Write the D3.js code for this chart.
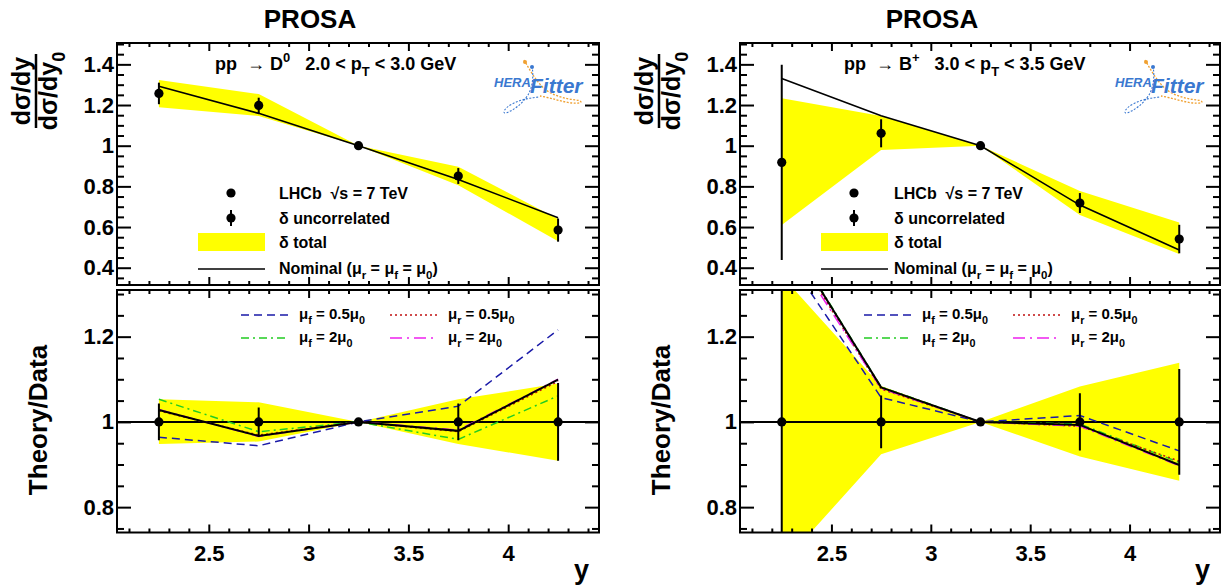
<!DOCTYPE html>
<html><head><meta charset="utf-8">
<script src="https://cdn.jsdelivr.net/npm/d3@7"></script>
<style>
body{margin:0;background:#fff;}
svg{display:block;}
text{font-family:"Liberation Sans",Arial,Helvetica,sans-serif;font-weight:bold;fill:#000;white-space:pre;}
</style></head><body>
<svg id="c" width="1225" height="585"></svg>
<script>
// ---------- data ----------
const rapidity = [2.25, 2.75, 3.25, 3.75, 4.25];
const xMajorTicks = [2.5, 3, 3.5, 4];
const topYTicks = [0.4, 0.6, 0.8, 1, 1.2, 1.4];
const ratioYTicks = [0.8, 1, 1.2];
const xDomain = [2.04, 4.455];
const topDomain = [0.315, 1.505];
const ratioDomain = [0.7405, 1.3095];

// D0, 2.0 < pT < 3.0 GeV
const d0Data      = [1.257, 1.198, 1.000, 0.851, 0.585];
const d0ErrUnc    = [0.053, 0.038, 0.000, 0.039, 0.057];
const d0BandLo    = [1.189, 1.146, 1.000, 0.806, 0.530];
const d0BandHi    = [1.323, 1.254, 1.000, 0.897, 0.640];
const d0Nominal   = [1.292, 1.159, 1.000, 0.834, 0.646];
const d0RatioErr  = [0.043, 0.034, 0.000, 0.043, 0.091];
const d0RatioLo   = [0.948, 0.954, 1.000, 0.948, 0.909];
const d0RatioHi   = [1.053, 1.046, 1.000, 1.053, 1.090];
const d0RNominal  = [1.028, 0.967, 1.000, 0.979, 1.099];
const d0RMuf05    = [0.964, 0.944, 1.000, 1.037, 1.216];
const d0RMuf2     = [1.053, 0.977, 1.000, 0.959, 1.061];
const d0RMur05    = [1.026, 0.969, 1.000, 0.977, 1.095];
const d0RMur2     = [1.029, 0.966, 1.000, 0.981, 1.100];

// B+, 3.0 < pT < 3.5 GeV
const bData       = [0.918, 1.061, 1.000, 0.718, 0.541];
const bErrUnc     = [0.480, 0.069, 0.000, 0.049, 0.070];
const bBandLo     = [0.610, 0.979, 1.000, 0.659, 0.467];
const bBandHi     = [1.233, 1.146, 1.000, 0.777, 0.622];
const bNominal    = [1.331, 1.147, 1.000, 0.708, 0.487];
const bRatioErr   = [0.520, 0.062, 0.000, 0.067, 0.124];
const bRatioLo    = [0.665, 0.924, 1.000, 0.919, 0.862];
const bRatioHi    = [1.343, 1.084, 1.000, 1.083, 1.139];
const bRNominal   = [1.457, 1.081, 1.000, 0.993, 0.899];
const bRMuf05     = [1.405, 1.057, 1.000, 1.015, 0.932];
const bRMuf2      = [1.460, 1.082, 1.000, 0.995, 0.905];
const bRMur05     = [1.450, 1.077, 1.000, 0.990, 0.908];
const bRMur2      = [1.440, 1.078, 1.000, 0.990, 0.897];

// ---------- drawing ----------
const svg = d3.select("#c");
const defs = svg.append("defs");
const TOP = [43, 285], BOT = [290, 532.5];

const varStyles = [
  {key:"muf05", color:"#1a1aa8", dash:"8,5",        w:1.5},
  {key:"muf2",  color:"#22cc22", dash:"8,4,2,4",    w:1.5},
  {key:"mur05", color:"#c01010", dash:"2,3",        w:1.5},
  {key:"mur2",  color:"#ee22ee", dash:"12,5,2,5",   w:1.5}
];

function rich(t, parts, fs){
  let shift = 0;
  parts.forEach(p=>{
    const [str, kind] = p;
    const ts = t.append("tspan").text(str);
    let target = 0, size = fs;
    if(kind==="sub"){ target = fs*0.32; size = fs*0.72; }
    if(kind==="sup"){ target = -fs*0.42; size = fs*0.72; }
    ts.attr("font-size", size).attr("dy", target - shift);
    shift = target;
  });
}

function drawPanel(cfg){
  const {id, x0, x1} = cfg;
  const x = d3.scaleLinear().domain(xDomain).range([x0, x1]);
  const yT = d3.scaleLinear().domain(topDomain).range([TOP[1], TOP[0]]);
  const yB = d3.scaleLinear().domain(ratioDomain).range([BOT[1], BOT[0]]);
  const idx = d3.range(rapidity.length);

  defs.append("clipPath").attr("id", id+"T").append("rect")
    .attr("x", x0).attr("y", TOP[0]).attr("width", x1-x0).attr("height", TOP[1]-TOP[0]);
  defs.append("clipPath").attr("id", id+"B").append("rect")
    .attr("x", x0).attr("y", BOT[0]).attr("width", x1-x0).attr("height", BOT[1]-BOT[0]);

  // title
  svg.append("text").attr("x", cfg.titleX).attr("y", 28).attr("text-anchor","middle")
    .attr("font-size", 26).text("PROSA");

  // ---- top panel ----
  const gT = svg.append("g").attr("clip-path", `url(#${id}T)`);
  gT.append("path").datum(idx)
    .attr("d", d3.area().x(i=>x(rapidity[i])).y0(i=>yT(cfg.bandLo[i])).y1(i=>yT(cfg.bandHi[i])))
    .attr("fill", "#ffff00");
  gT.append("path").datum(idx)
    .attr("d", d3.line().x(i=>x(rapidity[i])).y(i=>yT(cfg.nominal[i])))
    .attr("fill","none").attr("stroke","#000").attr("stroke-width",1.6);
  gT.selectAll(".eb").data(idx.filter(i=>cfg.errUnc[i]>0)).join("line")
    .attr("x1", i=>x(rapidity[i])).attr("x2", i=>x(rapidity[i]))
    .attr("y1", i=>yT(cfg.data[i]-cfg.errUnc[i])).attr("y2", i=>yT(cfg.data[i]+cfg.errUnc[i]))
    .attr("stroke","#000").attr("stroke-width",2);
  gT.selectAll(".pt").data(idx).join("circle")
    .attr("cx", i=>x(rapidity[i])).attr("cy", i=>yT(cfg.data[i])).attr("r",4.6).attr("fill","#000");

  // ---- bottom panel ----
  const gB = svg.append("g").attr("clip-path", `url(#${id}B)`);
  gB.append("path").datum(idx)
    .attr("d", d3.area().x(i=>x(rapidity[i])).y0(i=>yB(cfg.rLo[i])).y1(i=>yB(cfg.rHi[i])))
    .attr("fill", "#ffff00");
  gB.append("line").attr("x1", x0).attr("x2", x1).attr("y1", yB(1)).attr("y2", yB(1))
    .attr("stroke","#000").attr("stroke-width",2);
  varStyles.forEach(s=>{
    gB.append("path").datum(idx)
      .attr("d", d3.line().x(i=>x(rapidity[i])).y(i=>yB(cfg.vars[s.key][i])))
      .attr("fill","none").attr("stroke",s.color).attr("stroke-width",s.w).attr("stroke-dasharray",s.dash);
  });
  gB.append("path").datum(idx)
    .attr("d", d3.line().x(i=>x(rapidity[i])).y(i=>yB(cfg.rNominal[i])))
    .attr("fill","none").attr("stroke","#000").attr("stroke-width",2);
  gB.selectAll(".eb").data(idx.filter(i=>cfg.rErr[i]>0)).join("line")
    .attr("x1", i=>x(rapidity[i])).attr("x2", i=>x(rapidity[i]))
    .attr("y1", i=>yB(1-cfg.rErr[i])).attr("y2", i=>yB(1+cfg.rErr[i]))
    .attr("stroke","#000").attr("stroke-width",2);
  gB.selectAll(".pt").data(idx).join("circle")
    .attr("cx", i=>x(rapidity[i])).attr("cy", yB(1)).attr("r",4.6).attr("fill","#000");

  // ---- axes ----
  const xMinor = d3.range(21, 45).map(v=>v/10).filter(v=>v>xDomain[0] && v<xDomain[1] && !xMajorTicks.includes(v));
  const yMinorTop = d3.range(7, 31).map(v=>v/20).filter(v=>v>topDomain[0] && v<topDomain[1] && !topYTicks.some(t=>Math.abs(t-v)<1e-6));
  const yMinorR = d3.range(15, 27).map(v=>v/20).filter(v=>v>ratioDomain[0] && v<ratioDomain[1] && !ratioYTicks.some(t=>Math.abs(t-v)<1e-6));

  function styleAxis(sel){
    sel.select(".domain").remove();
    sel.selectAll(".tick line").attr("stroke","#000").attr("stroke-width",2);
    sel.selectAll("text").attr("font-family",null).attr("font-size",null);
    return sel;
  }
  [[TOP, yT, topYTicks, yMinorTop, false],[BOT, yB, ratioYTicks, yMinorR, true]].forEach(([rng, ys, maj, mnr, lab])=>{
    styleAxis(svg.append("g").attr("transform",`translate(0,${rng[1]})`)
      .call(d3.axisBottom(x).tickValues(xMinor).tickSize(-4).tickFormat("")));
    const xb = styleAxis(svg.append("g").attr("transform",`translate(0,${rng[1]})`)
      .call(d3.axisBottom(x).tickValues(xMajorTicks).tickSize(-8).tickPadding(13)
        .tickFormat(lab ? d3.format("") : "")));
    xb.selectAll("text").attr("font-size",22);
    styleAxis(svg.append("g").attr("transform",`translate(0,${rng[0]})`)
      .call(d3.axisTop(x).tickValues(xMinor).tickSize(-4).tickFormat("")));
    styleAxis(svg.append("g").attr("transform",`translate(0,${rng[0]})`)
      .call(d3.axisTop(x).tickValues(xMajorTicks).tickSize(-8).tickFormat("")));
    styleAxis(svg.append("g").attr("transform",`translate(${x0},0)`)
      .call(d3.axisLeft(ys).tickValues(mnr).tickSize(-7).tickFormat("")));
    const yl = styleAxis(svg.append("g").attr("transform",`translate(${x0},0)`)
      .call(d3.axisLeft(ys).tickValues(maj).tickSize(-14).tickPadding(3).tickFormat(d3.format(""))));
    yl.selectAll("text").attr("font-size",22);
    styleAxis(svg.append("g").attr("transform",`translate(${x1},0)`)
      .call(d3.axisRight(ys).tickValues(mnr).tickSize(-7).tickFormat("")));
    styleAxis(svg.append("g").attr("transform",`translate(${x1},0)`)
      .call(d3.axisRight(ys).tickValues(maj).tickSize(-14).tickFormat("")));
    svg.append("rect").attr("x",x0).attr("y",rng[0]).attr("width",x1-x0).attr("height",rng[1]-rng[0])
      .attr("fill","none").attr("stroke","#000").attr("stroke-width",2);
  });

  // x title
  svg.append("text").attr("x", x1-10).attr("y", 579).attr("text-anchor","end").attr("font-size",27).text("y");

  // y titles
  const fr = svg.append("g");
  fr.append("text").attr("transform",`translate(${x0-87},91) rotate(-90)`).attr("text-anchor","middle")
    .attr("font-size",25).text("dσ/dy");
  fr.append("line").attr("x1",x0-81).attr("x2",x0-81).attr("y1",54).attr("y2",128).attr("stroke","#000").attr("stroke-width",2.5);
  const den = fr.append("text").attr("transform",`translate(${x0-60},91) rotate(-90)`).attr("text-anchor","middle")
    .attr("font-size",25);
  rich(den, [["dσ/dy",""],["0","sub"]], 25);
  svg.append("text").attr("transform",`translate(${x0-70},420) rotate(-90)`).attr("text-anchor","middle")
    .attr("font-size",26).text("Theory/Data");

  // plot label
  const lab = svg.append("text").attr("x", x0+cfg.labelDx).attr("y", 70).attr("font-size",18);
  rich(lab, cfg.label, 18);

  // top legend
  const lx = x0, ly = [193, 218, 242, 268];
  svg.append("circle").attr("cx", lx+114).attr("cy", ly[0]).attr("r",4.6).attr("fill","#000");
  svg.append("line").attr("x1", lx+114).attr("x2", lx+114).attr("y1", ly[1]-8).attr("y2", ly[1]+8)
    .attr("stroke","#000").attr("stroke-width",2);
  svg.append("circle").attr("cx", lx+114).attr("cy", ly[1]).attr("r",4.6).attr("fill","#000");
  svg.append("rect").attr("x", lx+81).attr("y", ly[2]-9).attr("width",67).attr("height",18).attr("fill","#ffff00");
  svg.append("line").attr("x1", lx+81).attr("x2", lx+148).attr("y1", ly[3]+1).attr("y2", ly[3]+1)
    .attr("stroke","#000").attr("stroke-width",1.6);
  const tx = lx+cfg.legDx;
  svg.append("text").attr("x",tx).attr("y",ly[0]+6).attr("font-size",16).text("LHCb  √s = 7 TeV");
  svg.append("text").attr("x",tx).attr("y",ly[1]+6).attr("font-size",16).text("δ uncorrelated");
  svg.append("text").attr("x",tx).attr("y",ly[2]+6).attr("font-size",16).text("δ total");
  const t4 = svg.append("text").attr("x",tx).attr("y",ly[3]+6).attr("font-size",16);
  rich(t4, [["Nominal (μ",""],["r","sub"],[" = μ",""],["f","sub"],[" = μ",""],["0","sub"],[")",""]], 16);

  // ratio legend
  const rl = [
    {s:varStyles[0], dx:124, y:315, lbl:[["μ",""],["f","sub"],[" = 0.5μ",""],["0","sub"]]},
    {s:varStyles[2], dx:273, y:315, lbl:[["μ",""],["r","sub"],[" = 0.5μ",""],["0","sub"]]},
    {s:varStyles[1], dx:124, y:338, lbl:[["μ",""],["f","sub"],[" = 2μ",""],["0","sub"]]},
    {s:varStyles[3], dx:273, y:338, lbl:[["μ",""],["r","sub"],[" = 2μ",""],["0","sub"]]}
  ];
  rl.forEach(r=>{
    svg.append("line").attr("x1",x0+r.dx).attr("x2",x0+r.dx+47).attr("y1",r.y).attr("y2",r.y)
      .attr("stroke",r.s.color).attr("stroke-width",1.5).attr("stroke-dasharray",r.s.dash);
    const t = svg.append("text").attr("x",x0+r.dx+58).attr("y",r.y+4).attr("font-size",15);
    rich(t, r.lbl, 15);
  });

  // HERAFitter logo
  const lg = svg.append("g").attr("transform",`translate(${x1-105},0)`);
  lg.append("path").attr("d","M30,60 C36,70 42,82 52,90 C60,96 72,99 82,100 C90,101 88,104 78,103 C68,102 58,98 46,96")
    .attr("fill","none").attr("stroke","#f0a030").attr("stroke-width",1.3).attr("stroke-dasharray","2,1.5");
  lg.append("circle").attr("cx",31).attr("cy",62).attr("r",2).attr("fill","#f0a030");
  lg.append("path").attr("d","M38,66 C40,78 38,88 34,95 C28,104 20,110 12,113 C8,114 10,108 18,104 C26,100 34,98 45,97")
    .attr("fill","none").attr("stroke","#3a78d0").attr("stroke-width",1.1).attr("stroke-dasharray","2,1.5");
  lg.append("circle").attr("cx",38).attr("cy",67).attr("r",2).attr("fill","#3a78d0");
  lg.append("text").attr("x",0).attr("y",87).attr("font-size",13).attr("font-weight","normal")
    .attr("font-style","italic").style("fill","#3a78d0").text("HERA");
  lg.append("text").attr("x",36).attr("y",93).attr("font-size",21).attr("font-weight","normal")
    .attr("font-style","italic").style("fill","#3a78d0").text("Fitter");
}

drawPanel({
  id:"pL", x0:117, x1:599, titleX:310, labelDx:98, legDx:162,
  label:[["pp  → D",""],["0","sup"],["   2.0 < p",""],["T","sub"],[" < 3.0 GeV",""]],
  data:d0Data, errUnc:d0ErrUnc, bandLo:d0BandLo, bandHi:d0BandHi, nominal:d0Nominal,
  rErr:d0RatioErr, rLo:d0RatioLo, rHi:d0RatioHi, rNominal:d0RNominal,
  vars:{muf05:d0RMuf05, muf2:d0RMuf2, mur05:d0RMur05, mur2:d0RMur2}
});
drawPanel({
  id:"pR", x0:740, x1:1220, titleX:932, labelDx:104, legDx:154,
  label:[["pp  → B",""],["+","sup"],["   3.0 < p",""],["T","sub"],[" < 3.5 GeV",""]],
  data:bData, errUnc:bErrUnc, bandLo:bBandLo, bandHi:bBandHi, nominal:bNominal,
  rErr:bRatioErr, rLo:bRatioLo, rHi:bRatioHi, rNominal:bRNominal,
  vars:{muf05:bRMuf05, muf2:bRMuf2, mur05:bRMur05, mur2:bRMur2}
});
</script>
</body></html>
